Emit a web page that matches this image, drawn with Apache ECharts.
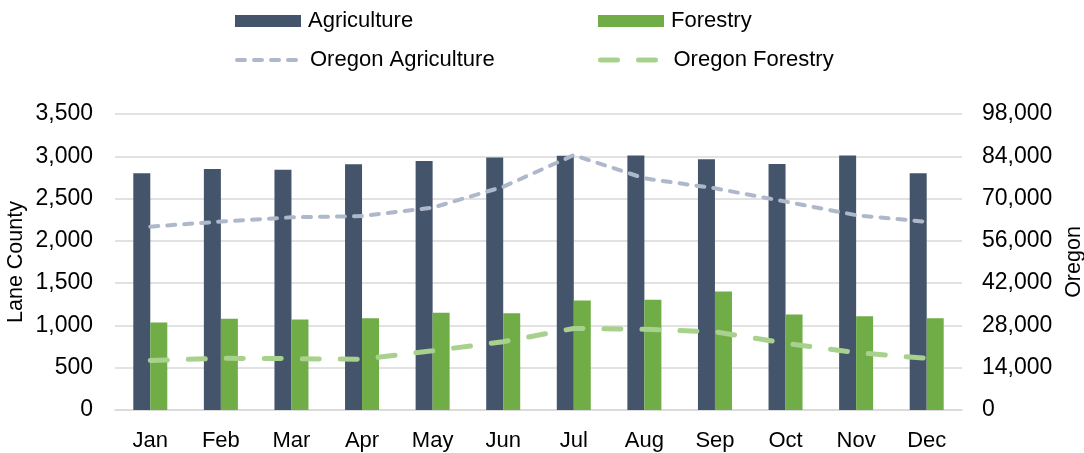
<!DOCTYPE html>
<html>
<head>
<meta charset="utf-8">
<script src="https://cdn.jsdelivr.net/npm/echarts@6/dist/echarts.min.js"></script>
<style>
  html, body { margin: 0; padding: 0; background: #fff; }
  #chart { width: 1084px; height: 453px; }
</style>
</head>
<body>
<div id="chart"></div>
<script>
const months = ['Jan', 'Feb', 'Mar', 'Apr', 'May', 'Jun', 'Jul', 'Aug', 'Sep', 'Oct', 'Nov', 'Dec'];
const laneAgriculture = [2800, 2850, 2840, 2905, 2945, 2985, 3005, 3010, 2965, 2910, 3010, 2800];
const laneForestry = [1035, 1080, 1070, 1085, 1150, 1145, 1295, 1305, 1400, 1130, 1110, 1085];
const oregonAgriculture = [60700, 62400, 63800, 64200, 67000, 73900, 84400, 76700, 73400, 69000, 64500, 62300];
const oregonForestry = [16400, 17100, 17000, 16800, 19600, 22600, 27000, 26700, 25900, 22100, 19000, 17100];

const font = 'Liberation Sans, Arial, sans-serif';
const textColor = '#000';
const gridColor = '#d9d9d9';

const agDash = { color: '#adb9ca', width: 4, type: [8, 9], cap: 'round' };
const foDash = { color: '#a9d18e', width: 5, type: [17, 21], cap: 'round' };

const chart = echarts.init(document.getElementById('chart'), null, { renderer: 'canvas' });

function legendAt(name, left, top, icon, lineStyle) {
  const l = {
    left: left,
    top: top,
    padding: 0,
    orient: 'horizontal',
    itemWidth: 66,
    itemHeight: 12,
    itemGap: 0,
    data: [name],
    textStyle: { fontFamily: font, fontSize: 22, color: textColor, padding: [0, 0, 0, 2] }
  };
  if (icon) l.icon = icon;
  if (lineStyle) {
    // line only, hide the default symbol
    l.itemStyle = { opacity: 0 };
    l.lineStyle = lineStyle;
  }
  return l;
}

chart.setOption({
  animation: false,
  backgroundColor: '#fff',
  textStyle: { fontFamily: font },
  legend: [
    legendAt('Agriculture', 235, 10, 'rect'),
    legendAt('Forestry', 598, 10, 'rect'),
    legendAt('Oregon Agriculture', 235, 49, null, agDash),
    legendAt('Oregon Forestry', 598, 49, null, foDash)
  ],
  grid: {
    left: 115,
    right: 122,
    top: 114,
    bottom: 43,
    outerBoundsMode: 'none'
  },
  xAxis: {
    type: 'category',
    data: months,
    axisLine: { lineStyle: { color: gridColor, width: 1.5 } },
    axisTick: { show: false },
    axisLabel: { color: textColor, fontSize: 22, fontFamily: font, margin: 20 }
  },
  yAxis: [
    {
      type: 'value',
      name: 'Lane County',
      nameLocation: 'middle',
      nameGap: 88,
      nameMoveOverlap: false,
      nameTextStyle: { color: textColor, fontSize: 21.5, fontFamily: font },
      min: 0,
      max: 3500,
      interval: 500,
      axisLine: { show: false },
      axisTick: { show: false },
      axisLabel: {
        color: textColor, fontSize: 23, fontFamily: font, margin: 22,
        formatter: (v) => v.toLocaleString('en-US')
      },
      splitLine: { lineStyle: { color: gridColor, width: 1.5 } }
    },
    {
      type: 'value',
      name: 'Oregon',
      nameLocation: 'middle',
      nameGap: 101,
      nameMoveOverlap: false,
      nameTextStyle: { color: textColor, fontSize: 21.5, fontFamily: font },
      min: 0,
      max: 98000,
      interval: 14000,
      position: 'right',
      axisLine: { show: false },
      axisTick: { show: false },
      axisLabel: {
        color: textColor, fontSize: 23, fontFamily: font, margin: 20,
        formatter: (v) => v.toLocaleString('en-US')
      },
      splitLine: { show: false }
    }
  ],
  series: [
    {
      name: 'Agriculture',
      type: 'bar',
      yAxisIndex: 0,
      data: laneAgriculture,
      barWidth: 17,
      barGap: '0%',
      itemStyle: { color: '#44546a' }
    },
    {
      name: 'Forestry',
      type: 'bar',
      yAxisIndex: 0,
      data: laneForestry,
      barWidth: 17,
      barGap: '0%',
      itemStyle: { color: '#70ad47' }
    },
    {
      name: 'Oregon Agriculture',
      type: 'line',
      yAxisIndex: 1,
      data: oregonAgriculture,
      symbol: 'none',
      itemStyle: { color: '#adb9ca' },
      lineStyle: agDash
    },
    {
      name: 'Oregon Forestry',
      type: 'line',
      yAxisIndex: 1,
      data: oregonForestry,
      symbol: 'none',
      itemStyle: { color: '#a9d18e' },
      lineStyle: foDash
    }
  ]
});
</script>
</body>
</html>
